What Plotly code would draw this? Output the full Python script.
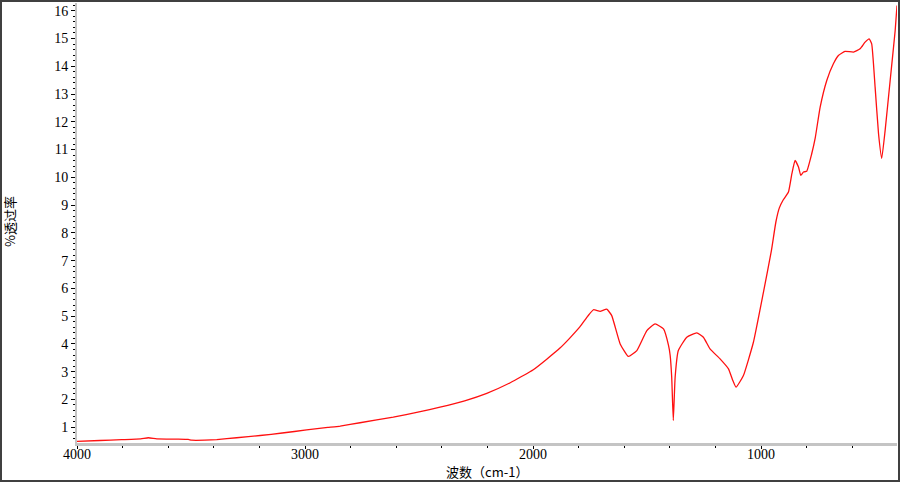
import plotly.graph_objects as go

# IR spectrum
wavenumber = [4000, 3900, 3804, 3720, 3687, 3650, 3560, 3512, 3497, 3440,
              3387, 3300, 3197, 3100, 2993, 2900, 2846, 2759, 2613, 2500,
              2408, 2300, 2203, 2100, 1999, 1940, 1882, 1840, 1794, 1760,
              1735, 1706, 1677, 1655, 1618, 1582, 1545, 1501, 1465, 1428,
              1406, 1399, 1392, 1385, 1377, 1363, 1326, 1282, 1253, 1224,
              1180, 1143, 1125, 1110, 1078, 1034, 990, 955, 935, 920,
              902, 880, 865, 851, 836, 826, 814, 800, 778, 763,
              741, 712, 683, 661, 632, 595, 566, 544, 526, 515,
              500, 485, 471, 456, 434, 412, 404]
transmittance = [0.49, 0.52, 0.55, 0.58, 0.62, 0.58, 0.57, 0.56, 0.53, 0.53,
                 0.55, 0.62, 0.70, 0.79, 0.90, 0.99, 1.04, 1.16, 1.36, 1.55,
                 1.72, 1.95, 2.22, 2.60, 3.07, 3.45, 3.85, 4.20, 4.62, 5.00,
                 5.23, 5.17, 5.25, 5.02, 4.00, 3.55, 3.76, 4.48, 4.72, 4.54,
                 3.95, 3.60, 2.80, 1.24, 2.80, 3.76, 4.24, 4.40, 4.24, 3.82,
                 3.46, 3.10, 2.70, 2.44, 2.85, 4.05, 5.85, 7.35, 8.40, 8.90,
                 9.20, 9.47, 10.13, 10.61, 10.37, 10.07, 10.19, 10.22, 10.85, 11.40,
                 12.53, 13.49, 14.09, 14.39, 14.54, 14.51, 14.63, 14.87, 14.99, 14.81,
                 13.25, 11.57, 10.68, 11.69, 13.49, 15.29, 16.19]

W, H = 900, 482
L, R, T, B = 77, 3, 3, 39
pw, ph = W - L - R, H - T - B

LABEL_FONT = dict(family="Liberation Serif", size=14, color="#000000")
CJK_FONT = dict(family="Noto Sans CJK SC", size=13, color="#000000")

fig = go.Figure()

fig.add_trace(go.Scatter(
    x=wavenumber,
    y=transmittance,
    mode="lines",
    line=dict(color="#ff1010", width=1.3, shape="spline", smoothing=0.4),
    hoverinfo="x+y",
))

fig.update_layout(
    width=W,
    height=H,
    paper_bgcolor="#ffffff",
    plot_bgcolor="#ffffff",
    showlegend=False,
    margin=dict(l=L, r=R, t=T, b=B, pad=0, autoexpand=False),
    font=LABEL_FONT,
)

fig.update_xaxes(
    range=[4000, 404],
    tick0=0,
    dtick=1000,
    showgrid=False,
    zeroline=False,
    showline=True,
    linecolor="#c4c4c4",
    linewidth=3,
    ticks="outside",
    ticklen=3,
    tickcolor="#000000",
    tickfont=LABEL_FONT,
    ticklabelstandoff=-7,
    automargin=False,
    minor=dict(dtick=200, ticks="outside", ticklen=2, tickcolor="#000000"),
)

fig.update_yaxes(
    range=[0.43, 16.28],
    tick0=0,
    dtick=1,
    showgrid=False,
    zeroline=False,
    showline=True,
    linecolor="#c4c4c4",
    linewidth=2,
    ticks="outside",
    ticklen=4,
    tickcolor="#000000",
    tickfont=LABEL_FONT,
    automargin=False,
    minor=dict(dtick=0.2, ticks="outside", ticklen=2, tickcolor="#000000"),
)

# axis titles
fig.add_annotation(
    text="波数（cm-1）",
    xref="paper", yref="paper",
    x=0.5, y=(443 - 471) / ph,
    xanchor="center", yanchor="middle",
    showarrow=False,
    font=CJK_FONT,
)
fig.add_annotation(
    text="%透过率",
    xref="paper", yref="paper",
    x=(10 - L) / pw, y=(443 - 222) / ph,
    xanchor="center", yanchor="middle",
    textangle=-90,
    showarrow=False,
    font=CJK_FONT,
)

# outer frame around the whole picture
fig.add_shape(
    type="rect",
    xref="paper", yref="paper",
    x0=(1 - L) / pw, x1=(899 - L) / pw,
    y0=(T + ph - 481) / ph, y1=(T + ph - 1) / ph,
    line=dict(color="#404040", width=2),
    fillcolor="rgba(0,0,0,0)",
    layer="above",
)

fig.write_html(
    "out.html",
    config={"displayModeBar": False},
    post_script="document.body.style.margin='0';",
)
